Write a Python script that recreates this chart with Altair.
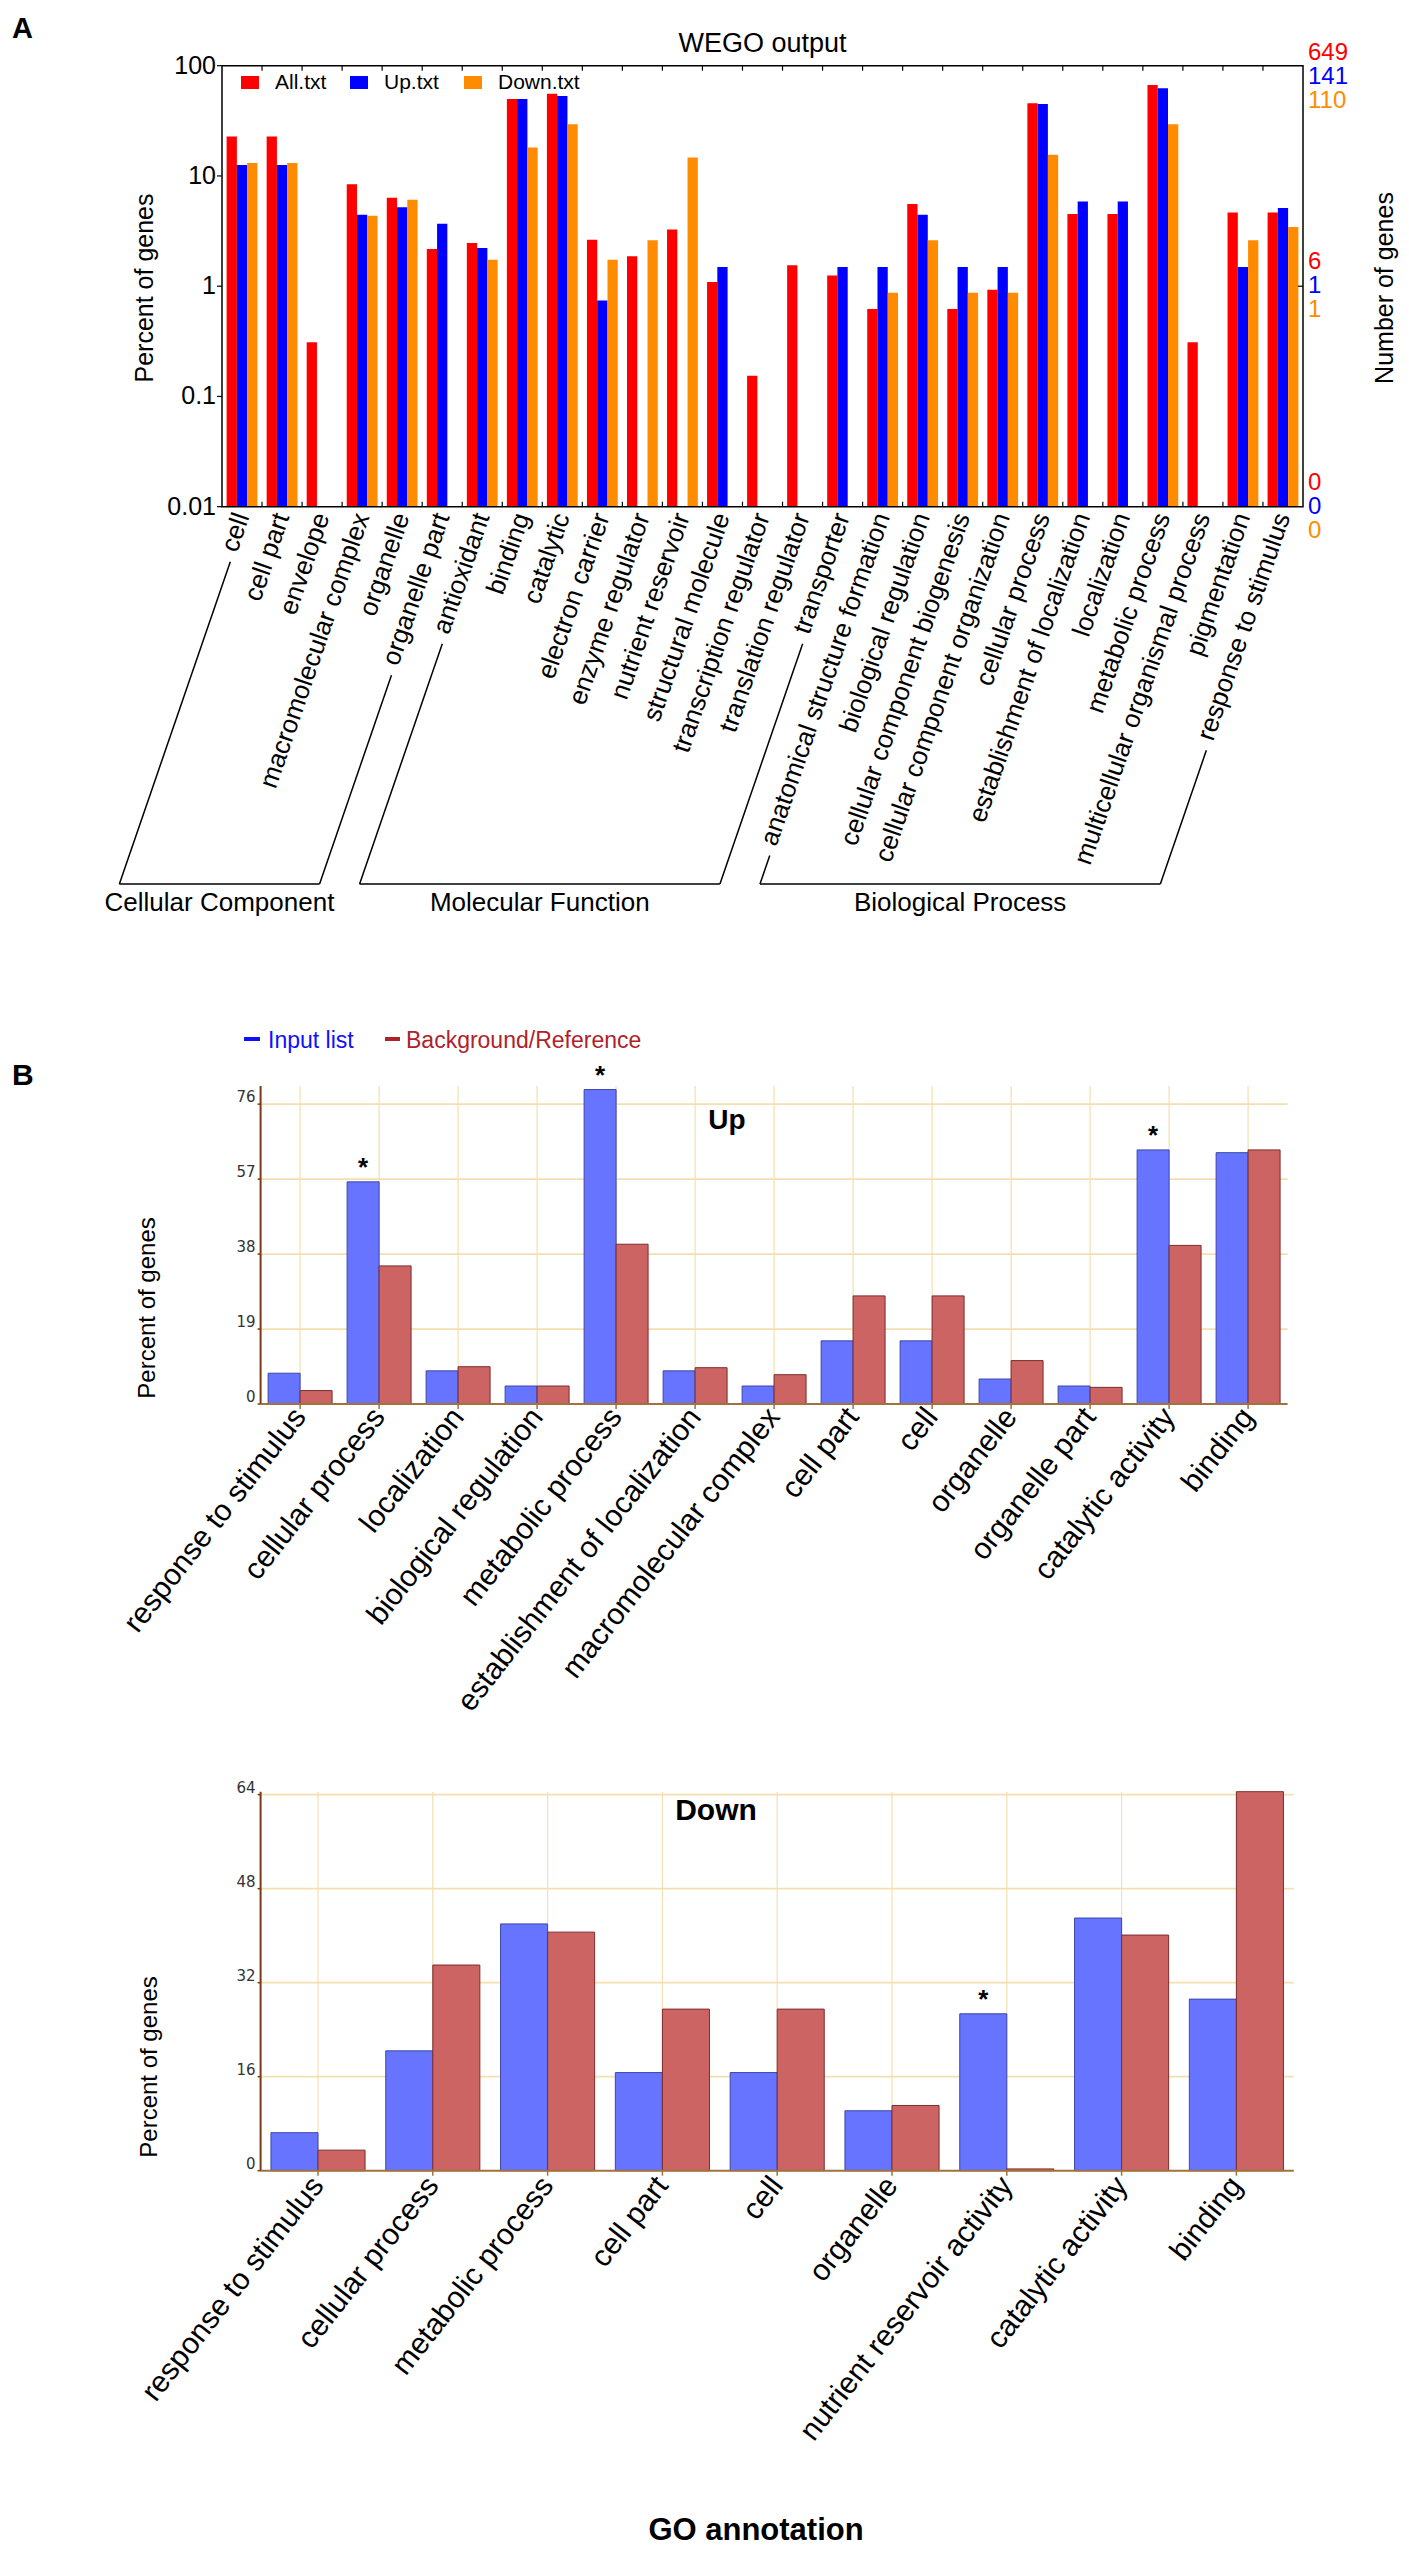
import math
import altair as alt
import pandas as pd

# ---------------- Panel A data (WEGO output) ----------------
wego_cats = [
    "cell", "cell part", "envelope", "macromolecular complex", "organelle",
    "organelle part", "antioxidant", "binding", "catalytic", "electron carrier",
    "enzyme regulator", "nutrient reservoir", "structural molecule",
    "transcription regulator", "translation regulator", "transporter",
    "anatomical structure formation", "biological regulation",
    "cellular component biogenesis", "cellular component organization",
    "cellular process", "establishment of localization", "localization",
    "metabolic process", "multicellular organismal process", "pigmentation",
    "response to stimulus",
]
all_pct = [22.8, 22.8, 0.31, 8.4, 6.35, 2.18, 2.47, 49.9, 55.8, 2.64, 1.87, 3.26, 1.09,
           0.154, 1.55, 1.25, 0.62, 5.56, 0.62, 0.93, 45.6, 4.52, 4.52, 66.8, 0.31, 4.67, 4.67]
up_pct = [12.6, 12.6, None, 4.45, 5.19, 3.69, 2.22, 49.9, 53.1, 0.74, None, None, 1.49,
          None, None, 1.49, 1.49, 4.45, 1.49, 1.49, 45.0, 5.88, 5.88, 62.4, None, 1.49, 5.12]
down_pct = [13.1, 13.1, None, 4.36, 6.09, None, 1.74, 18.1, 29.4, 1.74, 2.61, 14.7, None,
            None, None, None, 0.87, 2.61, 0.87, 0.87, 15.6, None, None, 29.4, None, 2.61, 3.44]
wego_series = ["All.txt", "Up.txt", "Down.txt"]
wego_colors = ["#ff0000", "#0000ff", "#ff8c00"]
go_groups = ["Cellular Component", "Molecular Function", "Biological Process"]
go_group_first = [0, 6, 16]
go_group_last = [5, 15, 26]
log_ticks = [0.01, 0.1, 1, 10, 100]
log_tick_labels = ["0.01", "0.1", "1", "10", "100"]
gene_levels = [100, 1, 0.01]
genes_all = ["649", "6", "0"]
genes_up = ["141", "1", "0"]
genes_down = ["110", "1", "0"]

# ---------------- Panel B data ----------------
b_series = ["Input list", "Background/Reference"]
b_colors = ["#6674ff", "#cc6464"]
b_strokes = ["#3b47a8", "#7d2c2c"]

up_cats = ["response to stimulus", "cellular process", "localization", "biological regulation",
           "metabolic process", "establishment of localization", "macromolecular complex",
           "cell part", "cell", "organelle", "organelle part", "catalytic activity", "binding"]
up_input = [7.8, 56.3, 8.4, 4.56, 79.7, 8.4, 4.56, 16.0, 16.0, 6.33, 4.56, 64.4, 63.7]
up_ref = [3.4, 35.0, 9.45, 4.56, 40.5, 9.2, 7.43, 27.4, 27.4, 11.0, 4.22, 40.2, 64.4]
up_stars = ["cellular process", "metabolic process", "catalytic activity"]
up_ticks = [0, 19, 38, 57, 76]

down_cats = ["response to stimulus", "cellular process", "metabolic process", "cell part",
             "cell", "organelle", "nutrient reservoir activity", "catalytic activity", "binding"]
down_input = [6.47, 20.4, 42.0, 16.7, 16.7, 10.2, 26.7, 43.0, 29.2]
down_ref = [3.5, 35.0, 40.6, 27.5, 27.5, 11.1, 0.3, 40.1, 64.5]
down_stars = ["nutrient reservoir activity"]
down_ticks = [0, 16, 32, 48, 64]

# ---------------- layout (page pixels) ----------------
M = 8
W = 1409 - 2 * M
PANEL_TOPS = [0, 952, 1732]          # canvas offsets of the three stacked views
PANEL_H = [952, 780, 802]
FONT = "Liberation Sans, Arial, Helvetica, sans-serif"

AW = dict(zip("abcdefghijklmnopqrstuvwxyz ",
              [556, 556, 500, 556, 556, 278, 556, 556, 222, 222, 500, 222, 833, 556, 556, 556,
               556, 333, 500, 278, 556, 500, 722, 500, 500, 500, 278]))


def text_len(s, size):
    return sum(AW.get(ch, 556) for ch in s) / 1000.0 * size


def one():
    return pd.DataFrame({"k": [0]})


class Helpers:
    def __init__(self, top):
        self.top = top

    def cx(self, p):
        return p - M

    def cy(self, p):
        return p - M - self.top

    def text(self, s, x, y, size, **kw):
        font = kw.pop("font", FONT)
        return alt.Chart(pd.DataFrame({"t": [s]})).mark_text(fontSize=size, font=font, **kw).encode(
            x=alt.value(self.cx(x)), y=alt.value(self.cy(y)), text="t:N")

    def seg(self, x1, y1, x2, y2, color="black", width=1.5):
        return alt.Chart(one()).mark_rule(color=color, strokeWidth=width).encode(
            x=alt.value(self.cx(x1)), y=alt.value(self.cy(y1)),
            x2=alt.value(self.cx(x2)), y2=alt.value(self.cy(y2)))

    def box(self, x1, y1, x2, y2, color):
        return alt.Chart(one()).mark_rect(color=color).encode(
            x=alt.value(self.cx(x1)), y=alt.value(self.cy(y1)),
            x2=alt.value(self.cx(x2)), y2=alt.value(self.cy(y2)))


# ================= Panel A =================
hA = Helpers(PANEL_TOPS[0])
A_X0, A_X1, A_YT, A_YB = 222, 1303, 65.7, 506.7
A_LABEL_Y = 514
A_BRACKET_Y = 884
A_LABEL_FS = 26
A_ANGLE = 71
step_a = (A_X1 - A_X0) / len(wego_cats)
bar_a = step_a / 3.9

xa = alt.Scale(domain=wego_cats, range=[hA.cx(A_X0), hA.cx(A_X1)], paddingInner=0, paddingOuter=0)
ya = alt.Scale(type="log", domain=[0.01, 100], range=[hA.cy(A_YB), hA.cy(A_YT)], nice=False)


def XA():
    return alt.X("cat:N", scale=xa, axis=None)


def YA(f):
    return alt.Y(f, scale=ya, axis=None)


layersA = []
for si, (s, vals) in enumerate(zip(wego_series, (all_pct, up_pct, down_pct))):
    dfs_ = pd.DataFrame({"cat": [c for c, v in zip(wego_cats, vals) if v is not None],
                         "pct": [v for v in vals if v is not None]})
    layersA.append(alt.Chart(dfs_).mark_bar(
        width=bar_a, xOffset=(si - 1) * bar_a, color=wego_colors[si]).encode(
        x=XA(), y=YA("pct:Q"), y2=alt.datum(0.01)))

layersA.append(alt.Chart(pd.DataFrame({"lo": [0.01], "hi": [100]})).mark_rect(
    fillOpacity=0, stroke="black", strokeWidth=1.5).encode(
    x=alt.value(hA.cx(A_X0)), x2=alt.value(hA.cx(A_X1)), y=YA("hi:Q"), y2="lo:Q"))
dfLT = pd.DataFrame({"v": log_ticks, "lab": log_tick_labels})
layersA.append(alt.Chart(dfLT).mark_rule(color="black", strokeWidth=1.2).encode(
    x=alt.value(hA.cx(A_X0 - 5)), x2=alt.value(hA.cx(A_X0)), y=YA("v:Q")))
layersA.append(alt.Chart(dfLT).mark_text(align="right", baseline="middle", fontSize=25, font=FONT).encode(
    x=alt.value(hA.cx(A_X0 - 6)), y=YA("v:Q"), text="lab:N"))
layersA.append(alt.Chart(pd.DataFrame({"v": [1]})).mark_rule(color="black", strokeWidth=1.2).encode(
    x=alt.value(hA.cx(A_X1 - 5)), x2=alt.value(hA.cx(A_X1)), y=YA("v:Q")))
layersA.append(alt.Chart(pd.DataFrame({"cat": wego_cats})).mark_text(
    angle=360 - A_ANGLE, align="right", baseline="middle", fontSize=A_LABEL_FS, font=FONT).encode(
    x=XA(), y=alt.value(hA.cy(A_LABEL_Y)), text="cat:N"))

# inward ticks at the group boundaries (top and bottom frame)
for k in range(1, len(wego_cats)):
    bx = A_X0 + k * step_a
    layersA.append(hA.seg(bx, A_YB, bx, A_YB - 5, width=1.2))
    layersA.append(hA.seg(bx, A_YT, bx, A_YT + 5, width=1.2))

layersA.append(hA.text("A", 12, 38, 29, fontWeight="bold", align="left", baseline="alphabetic"))
layersA.append(hA.text("WEGO output", (A_X0 + A_X1) / 2, 44, 27, align="center", baseline="middle"))
layersA.append(hA.text("Percent of genes", 145, 288, 25, angle=270, align="center", baseline="middle"))
layersA.append(hA.text("Number of genes", 1385, 288, 25, angle=270, align="center", baseline="middle"))

leg_sq_x = [241, 350, 464]
leg_tx_x = [275, 384, 498]
for s, col, sx, tx in zip(wego_series, wego_colors, leg_sq_x, leg_tx_x):
    layersA.append(hA.box(sx, 76, sx + 18, 89, col))
    layersA.append(hA.text(s, tx, 83, 21, align="left", baseline="middle"))


def a_ypix(v):
    return A_YB - (math.log10(v) + 2) / 4.0 * (A_YB - A_YT)


level_shift = [11, 0, 0]
series_dy = [-24, 0, 24]
for li, lv in enumerate(gene_levels):
    for si, labs in enumerate((genes_all, genes_up, genes_down)):
        layersA.append(hA.text(labs[li], 1308, a_ypix(lv) + level_shift[li] + series_dy[si], 24,
                               align="left", baseline="middle", color=wego_colors[si]))

th = math.radians(A_ANGLE)
ux, uy = -math.cos(th), math.sin(th)
ox, oy = math.sin(th) * 4.5, math.cos(th) * 4.5


def bracket_pts(i):
    ax = A_X0 + step_a * (i + 0.5) + ox
    ay = A_LABEL_Y + oy
    L = text_len(wego_cats[i], A_LABEL_FS) + 10
    top = (ax + ux * L, ay + uy * L)
    t = (A_BRACKET_Y - ay) / uy
    bot = (ax + ux * t, A_BRACKET_Y)
    return top, bot


for g, f, l in zip(go_groups, go_group_first, go_group_last):
    tf, bf = bracket_pts(f)
    tl, bl = bracket_pts(l)
    layersA.append(hA.seg(tf[0], tf[1], bf[0], bf[1]))
    layersA.append(hA.seg(bf[0], bf[1], bl[0], bl[1]))
    layersA.append(hA.seg(bl[0], bl[1], tl[0], tl[1]))
    layersA.append(hA.text(g, (bf[0] + bl[0]) / 2, 903, 26, align="center", baseline="middle"))

panelA = alt.layer(*layersA).properties(width=W, height=PANEL_H[0])

# ================= Panel B =================
GRID = "#f3dfb0"
AXIS_L = "#7a3b10"
AXIS_B = "#a0723c"


def go_panel(h, cats, inp, ref, stars, ticks, x0, x1, ybase, ytop, ymax, pad_outer, label_pad):
    xs = alt.Scale(domain=cats, range=[h.cx(x0), h.cx(x1)], paddingInner=0, paddingOuter=0)
    ys = alt.Scale(domain=[0, ymax], range=[h.cy(ybase), h.cy(ytop)], nice=False)

    def X():
        return alt.X("cat:N", scale=xs, axis=None)

    def Y(f):
        return alt.Y(f, scale=ys, axis=None)

    dfc = pd.DataFrame({"cat": cats})
    dft = pd.DataFrame({"t": ticks, "lab": [str(t) for t in ticks]})
    dfg = dft[dft.t > 0]
    dfs = pd.DataFrame({"cat": stars, "pct": [inp[cats.index(s)] for s in stars]})
    step = (x1 - x0) / len(cats)
    bw = step / (2 + 2 * pad_outer)

    L = []
    L.append(alt.Chart(dfc).mark_rule(color=GRID, strokeWidth=1.2).encode(
        x=X(), y=alt.value(h.cy(ybase)), y2=alt.value(h.cy(ytop))))
    L.append(alt.Chart(dfg).mark_rule(color=GRID, strokeWidth=1.8).encode(
        x=alt.value(h.cx(x0)), x2=alt.value(h.cx(x1)), y=Y("t:Q")))
    for si, vals in enumerate((inp, ref)):
        dfb = pd.DataFrame({"cat": cats, "pct": vals})
        L.append(alt.Chart(dfb).mark_bar(
            width=bw, xOffset=(si - 0.5) * bw, color=b_colors[si], stroke=b_strokes[si],
            strokeWidth=1).encode(x=X(), y=Y("pct:Q"), y2=alt.datum(0)))
    L.append(h.seg(x0, ybase, x0, ytop, color=AXIS_L, width=2))
    L.append(h.seg(x0, ybase, x1, ybase, color=AXIS_B, width=2))
    L.append(alt.Chart(dfc).mark_rule(color=AXIS_B, strokeWidth=1.5).encode(
        x=X(), y=alt.value(h.cy(ybase)), y2=alt.value(h.cy(ybase + 5))))
    L.append(alt.Chart(dft).mark_rule(color=AXIS_L, strokeWidth=1.5).encode(
        x=alt.value(h.cx(x0 - 3)), x2=alt.value(h.cx(x0)), y=Y("t:Q")))
    L.append(alt.Chart(dft).mark_text(align="right", baseline="alphabetic", dy=-2, fontSize=15,
                                      font="DejaVu Sans", color="#333333").encode(
        x=alt.value(h.cx(x0 - 5)), y=Y("t:Q"), text="lab:N"))
    L.append(alt.Chart(dfs).mark_text(text="*", dx=-bw / 2, dy=-6, baseline="alphabetic", align="center",
                                      fontSize=26, fontWeight="bold", font=FONT).encode(
        x=X(), y=Y("pct:Q")))
    L.append(alt.Chart(dfc).mark_text(angle=308, align="right", baseline="middle", fontSize=30,
                                      font=FONT).encode(
        x=X(), y=alt.value(h.cy(ybase + label_pad)), text="cat:N"))
    return L


hU = Helpers(PANEL_TOPS[1])
layersU = go_panel(hU, up_cats, up_input, up_ref, up_stars, up_ticks,
                   260.6, 1287.6, 1404, 1086, 80.6, 0.235, 8)
layersU.append(hU.text("B", 12, 1085, 30, fontWeight="bold", align="left", baseline="alphabetic"))
layersU.append(hU.box(244, 1037, 260, 1041, "#1010ff"))
layersU.append(hU.text("Input list", 268, 1041, 23, align="left", baseline="middle", color="#1010ff"))
layersU.append(hU.box(385, 1037, 400, 1041, "#b0222a"))
layersU.append(hU.text("Background/Reference", 406, 1041, 23, align="left", baseline="middle", color="#b0222a"))
layersU.append(hU.text("Up", 727, 1121, 28, fontWeight="bold", align="center", baseline="middle"))
layersU.append(hU.text("Percent of genes", 148, 1308, 24, angle=270, align="center", baseline="middle"))
panelUp = alt.layer(*layersU).properties(width=W, height=PANEL_H[1])

hD = Helpers(PANEL_TOPS[2])
layersD = go_panel(hD, down_cats, down_input, down_ref, down_stars, down_ticks,
                   260.6, 1293.8, 2170.7, 1791.7, 64.5, 0.22, 10)
layersD.append(hD.text("Down", 716, 1811, 30, fontWeight="bold", align="center", baseline="middle"))
layersD.append(hD.text("Percent of genes", 150, 2067, 24, angle=270, align="center", baseline="middle"))
layersD.append(hD.text("GO annotation", 756, 2531, 31, fontWeight="bold", align="center", baseline="middle"))
panelDown = alt.layer(*layersD).properties(width=W, height=PANEL_H[2])

chart = alt.vconcat(panelA, panelUp, panelDown, spacing=0, bounds="flush").properties(
    padding=0
).configure_view(stroke=None)

chart.save("out.html", embed_options={"renderer": "svg", "actions": False})
